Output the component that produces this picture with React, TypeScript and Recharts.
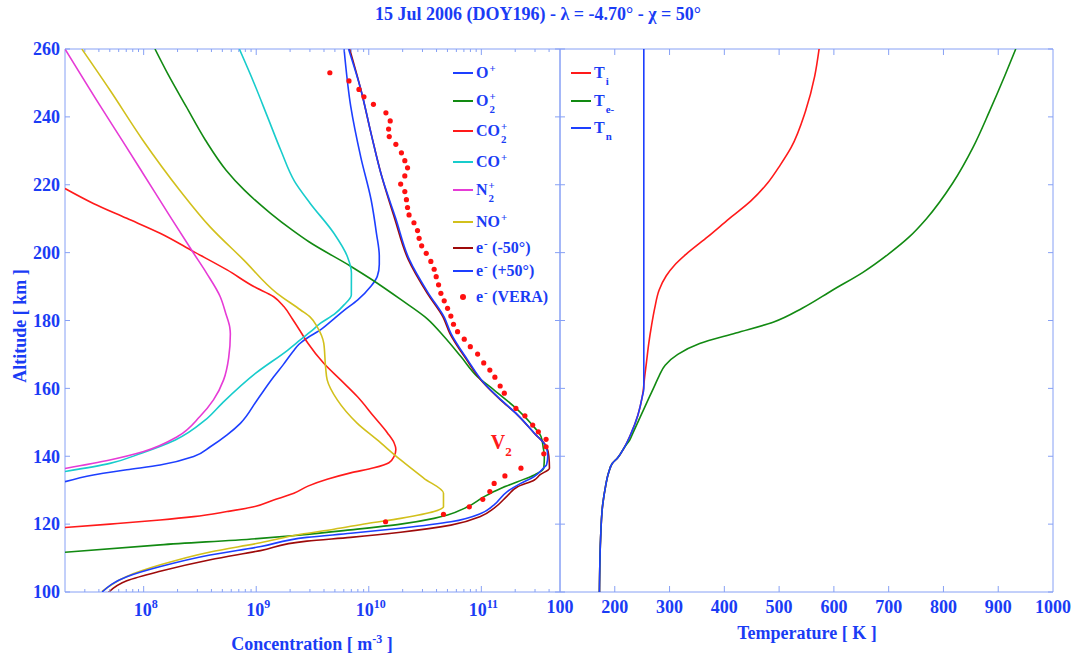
import React from 'react';
import { ScatterChart, Scatter, XAxis, YAxis, ReferenceDot } from 'recharts';

const W = 1076;
const H = 657;
const FONT = '"Liberation Serif", "Times New Roman", serif';
const TXT = '#1a3cf5';
const FRAME = '#86a0f5';

const TITLE = '15 Jul 2006 (DOY196) - \u03bb = -4.70\u00b0 - \u03c7 = 50\u00b0';

// ---- ticks ----
const ALT_TICKS = [100, 120, 140, 160, 180, 200, 220, 240, 260];
const CONC_MAJOR = [1e8, 1e9, 1e10, 1e11];
const CONC_MINOR = [
  3e7, 4e7, 5e7, 6e7, 7e7, 8e7, 9e7,
  2e8, 3e8, 4e8, 5e8, 6e8, 7e8, 8e8, 9e8,
  2e9, 3e9, 4e9, 5e9, 6e9, 7e9, 8e9, 9e9,
  2e10, 3e10, 4e10, 5e10, 6e10, 7e10, 8e10, 9e10,
  2e11, 3e11, 4e11,
];
const CONC_TICKS = [...CONC_MAJOR, ...CONC_MINOR];
const TEMP_TICKS = [100, 200, 300, 400, 500, 600, 700, 800, 900, 1000];

// ---- concentration profiles: [altitude km, density m^-3] ----
const O_PLUS: [number, number][] = [
  [260, 6.03e9], [243, 6.92e9], [228, 8.51e9], [215.5, 1.05e10], [205.7, 1.17e10], [199, 1.24e10],
  [196.5, 1.24e10], [193, 1.19e10], [190, 1.04e10], [186, 7.94e9], [183, 6.03e9], [180.5, 4.9e9],
  [177, 3.63e9], [175, 2.88e9], [173, 2.4e9], [171, 2.14e9], [167, 1.74e9], [163.4, 1.43e9],
  [156.6, 1.02e9], [149.7, 7.23e8], [146.3, 5.51e8], [142.8, 3.91e8], [139.9, 2.78e8], [137.4, 1.4e8],
  [136, 7.08e7], [134.5, 3.57e7], [132.5, 2.0e7],
];
const O2_PLUS: [number, number][] = [
  [260, 1.26e8], [252.8, 1.63e8], [243, 2.39e8], [233.2, 3.53e8], [224.3, 5.4e8], [218.4, 7.85e8],
  [211.6, 1.34e9], [206.7, 2.08e9], [203.2, 2.94e9], [196, 6.9e9], [192, 1.07e10],
  [186.2, 1.92e10], [180.5, 3.31e10], [175.2, 4.68e10], [169.3, 6.61e10], [163.4, 9.27e10],
  [159.5, 1.3e11], [154.6, 1.96e11], [149.7, 2.75e11], [145.8, 3.39e11], [142.5, 3.55e11],
  [140, 3.63e11], [136.5, 3.59e11], [134.5, 2.96e11], [132.5, 2.1e11], [130.6, 1.5e11],
  [128.1, 1.06e11], [125.1, 7.55e10], [122.7, 5.01e10], [121.7, 3.8e10], [120, 1.92e10],
  [118.3, 6.9e9], [116.8, 2.51e9], [115.8, 1.09e9], [113.9, 1.4e8], [111.7, 2.0e7],
];
const CO2_PLUS: [number, number][] = [
  [218.9, 2.0e7], [214.5, 3.57e7], [210.1, 7.08e7], [205.7, 1.4e8], [200.3, 2.78e8], [194.9, 5.51e8],
  [190, 9.51e8], [187, 1.43e9], [184.1, 1.76e9], [180.5, 2.09e9], [176.7, 2.48e9], [173.3, 2.88e9],
  [167.4, 3.98e9], [162.5, 5.62e9], [157.6, 7.91e9], [151.7, 1.11e10], [146.8, 1.47e10],
  [143.9, 1.68e10], [142, 1.74e10], [140, 1.68e10], [138.1, 1.51e10], [136.6, 1.11e10],
  [135.1, 6.9e9], [133.2, 4.27e9], [131.2, 2.88e9], [129.1, 2.16e9], [127.1, 1.43e9],
  [125.1, 9.51e8], [123.7, 5.51e8], [122.2, 2.78e8], [121.2, 1.4e8], [120, 5.01e7], [119, 2.0e7],
];
const CO_PLUS: [number, number][] = [
  [260, 7.08e8], [250, 9.55e8], [240, 1.26e9], [230, 1.66e9], [221, 2.19e9], [214.5, 3.02e9],
  [205.7, 4.9e9], [198.8, 6.46e9], [194, 7.01e9], [187.5, 7.0e9], [184.6, 6.03e9],
  [182, 5.01e9], [179.2, 3.73e9], [176.7, 3.04e9], [174.5, 2.51e9], [171.3, 1.91e9], [164.4, 9.84e8],
  [155.6, 4.97e8], [150.7, 3.53e8], [144.8, 1.91e8], [140.9, 9.55e7], [137.9, 5.01e7], [135.5, 2.0e7],
];
const N2_PLUS: [number, number][] = [
  [260, 2.0e7], [243, 4.15e7], [233, 6.46e7], [223.4, 9.84e7], [210.6, 1.72e8], [199.8, 2.78e8],
  [193.9, 3.63e8], [187, 4.79e8], [182, 5.37e8], [178, 5.82e8], [176, 5.89e8], [169, 5.69e8],
  [162.5, 5.13e8], [156.6, 4.17e8], [151.7, 3.16e8], [145.8, 2.0e8], [141.4, 1.0e8], [138.9, 5.0e7],
  [136.4, 2.0e7],
];
const NO_PLUS: [number, number][] = [
  [260, 2.82e7], [247.9, 5.01e7], [233.2, 9.8e7], [218.4, 2.09e8], [207.6, 3.89e8], [197.8, 7.76e8],
  [188, 1.53e9], [183.1, 2.48e9], [181, 3.02e9], [178.2, 3.47e9], [173.3, 3.98e9], [166.4, 4.13e9],
  [162.5, 4.27e9], [156.6, 5.25e9], [149.7, 7.91e9], [144.8, 1.19e10], [138.9, 1.92e10],
  [133.5, 3.09e10], [129.1, 4.61e10], [125.1, 4.61e10], [123.7, 3.8e10], [121.7, 1.92e10],
  [120.2, 9.73e9], [118.5, 4.9e9], [117, 2.48e9], [114.5, 1.09e9], [111.8, 3.91e8], [108, 1.41e8],
  [104.6, 7.08e7], [100.2, 4.27e7],
];
const E_M50: [number, number][] = [
  [260, 6.76e9], [248, 8.51e9], [235, 1.05e10], [223, 1.29e10], [210, 1.7e10], [198, 2.24e10],
  [188, 3.31e10], [181, 4.57e10], [176.2, 5.25e10], [168.4, 7.41e10], [161.5, 1.05e11],
  [156.6, 1.48e11], [152.2, 2.09e11], [146.8, 2.95e11], [142.8, 3.8e11], [140, 3.98e11],
  [136.5, 4.03e11], [134.5, 3.31e11], [133, 2.96e11], [131, 2.1e11], [128.4, 1.71e11],
  [124.7, 1.3e11], [122.3, 9.91e10], [119.7, 5.36e10], [117.6, 1.92e10], [116.1, 6.9e9],
  [115, 2.82e9], [112.2, 1.09e9], [109.5, 3.91e8], [106.1, 1.4e8], [103.3, 7.08e7], [100, 4.9e7],
];
const E_P50: [number, number][] = [
  [260, 6.61e9], [248, 8.51e9], [235, 1.05e10], [223, 1.29e10], [210, 1.74e10], [198, 2.29e10],
  [188, 3.39e10], [181, 4.68e10], [176.2, 5.37e10], [168.4, 7.55e10], [161.5, 1.06e11],
  [156.6, 1.5e11], [152.2, 2.1e11], [146.8, 2.96e11], [142.8, 3.76e11], [140, 3.89e11],
  [137.5, 3.8e11], [136.8, 3.63e11], [134, 2.95e11], [132, 2.24e11], [129.6, 1.7e11],
  [125.6, 1.29e11], [123.2, 1.0e11], [120.7, 5.37e10], [118.8, 1.91e10], [117.3, 6.92e9],
  [116.1, 2.82e9], [113.4, 1.1e9], [110.9, 3.89e8], [107.5, 1.41e8], [104.5, 7.08e7], [100, 4.27e7],
];
const E_VERA: [number, number][] = [
  [253, 4.51e9], [250.6, 6.67e9], [248.1, 8.18e9], [245.9, 9.06e9], [243.7, 1.1e10], [241.2, 1.42e10],
  [238.8, 1.55e10], [236.4, 1.5e10], [234.2, 1.52e10], [231.9, 1.74e10], [229.4, 1.95e10],
  [227.1, 2.09e10], [225, 2.21e10], [222.6, 2.09e10], [220.2, 1.92e10], [218, 2.09e10],
  [215.6, 2.16e10], [213.3, 2.21e10], [211.1, 2.28e10], [208.8, 2.52e10], [206.5, 2.71e10],
  [204.2, 2.8e10], [202, 2.95e10], [199.8, 3.24e10], [197.4, 3.56e10], [195.1, 3.81e10],
  [192.9, 3.97e10], [190.5, 4.17e10], [188, 4.37e10], [185.8, 4.68e10], [183.6, 5.01e10],
  [181.3, 5.36e10], [178.9, 5.66e10], [176.7, 6.15e10], [174.5, 7.05e10], [172.3, 7.98e10],
  [170.1, 9.27e10], [167.5, 1.05e11], [165.4, 1.19e11], [163.3, 1.32e11], [160.7, 1.47e11],
  [158.6, 1.6e11], [154.1, 2.03e11], [151.9, 2.44e11], [149.2, 2.86e11], [147.2, 3.21e11],
  [145, 3.76e11], [142.8, 3.76e11], [140.7, 3.59e11], [136.5, 2.25e11], [134.2, 1.62e11],
  [132, 1.3e11], [129.6, 1.19e11], [127.3, 1.03e11], [125.1, 7.82e10], [122.9, 4.61e10],
  [120.7, 1.41e10],
];

// ---- temperature profiles: [altitude km, temperature K] ----
const T_ION: [number, number][] = [
  [260, 573], [252, 565], [241.6, 548], [231, 522], [225.8, 502], [220.5, 479], [215.3, 449],
  [210, 409], [204.7, 370], [199.5, 330], [196.3, 309], [193.2, 294], [189, 281], [183.7, 273],
  [178.4, 267], [173.2, 262], [167.9, 258], [162.6, 254], [159.5, 252], [157.4, 250], [152, 242],
  [146.8, 230], [142.6, 217.5], [139.5, 205], [138, 196], [135.3, 189], [131, 183], [125.8, 178],
  [115.3, 174], [100, 172],
];
const T_ELEC: [number, number][] = [
  [260, 932], [252.1, 912], [241.6, 884], [231, 854], [220.5, 817], [210, 769], [204.7, 738],
  [199.5, 699], [194.2, 653], [189, 598], [183.7, 543], [179.5, 489], [176.3, 421], [173.2, 355],
  [170, 315], [166.8, 292], [163.7, 281], [160.5, 272], [157.4, 263], [152.1, 248], [146.8, 233],
  [144.7, 227], [142.6, 217.5], [139.5, 205], [138, 196], [135.3, 189], [131, 183], [125.8, 178],
  [115.3, 174], [100, 172],
];
const T_NEUT: [number, number][] = [
  [260, 253], [160, 253], [157.4, 250], [152, 242], [146.8, 230], [142.6, 217.5], [139.5, 205],
  [138, 196], [135.3, 189], [131, 183], [125.8, 178], [115.3, 174], [100, 172],
];

const toPts = (arr: [number, number][]) => arr.map(([alt, v]) => ({ x: v, y: alt }));

const LEFT_SERIES = [
  { name: 'O+', data: O_PLUS, color: '#1d3fff' },
  { name: 'O2+', data: O2_PLUS, color: '#128a12' },
  { name: 'CO2+', data: CO2_PLUS, color: '#ff1a1a' },
  { name: 'CO+', data: CO_PLUS, color: '#18cccc' },
  { name: 'N2+', data: N2_PLUS, color: '#e63bd6' },
  { name: 'NO+', data: NO_PLUS, color: '#d2c01c' },
  { name: 'e- (-50)', data: E_M50, color: '#9e0a0a' },
  { name: 'e- (+50)', data: E_P50, color: '#1d3fff' },
];
const VERA_COLOR = '#ff1010';

const RIGHT_SERIES = [
  { name: 'Ti', data: T_ION, color: '#ff1a1a' },
  { name: 'Te', data: T_ELEC, color: '#128a12' },
  { name: 'Tn', data: T_NEUT, color: '#1d3fff' },
];

const txtStyle = { fontFamily: FONT, fontWeight: 700 as const, fill: TXT };

const noShape = () => <g />;
const dotShape = (p: any) => <circle cx={p.cx} cy={p.cy} r={2.6} fill={VERA_COLOR} />;

// ---- ticks (drawn inward) ----
const concBottomTick = (p: any) => {
  const v = p.payload.value;
  const major = CONC_MAJOR.includes(v);
  const exp = Math.round(Math.log10(v));
  return (
    <g>
      <line x1={p.x} x2={p.x} y1={p.y} y2={p.y - (major ? 6 : 3)} stroke={FRAME} />
      {major && (
        <text x={p.x + 2} y={p.y + 24} textAnchor="middle" fontSize={18} {...txtStyle}>
          10<tspan dy={-8} fontSize={12}>{exp}</tspan>
        </text>
      )}
    </g>
  );
};
const concTopTick = (p: any) => {
  const major = CONC_MAJOR.includes(p.payload.value);
  return <line x1={p.x} x2={p.x} y1={p.y} y2={p.y + (major ? 6 : 3)} stroke={FRAME} />;
};
const altLeftTick = (p: any) => (
  <g>
    <line x1={p.x} x2={p.x + 5} y1={p.y} y2={p.y} stroke={FRAME} />
    <text x={p.x - 5} y={p.y} dy="0.35em" textAnchor="end" fontSize={18} {...txtStyle}>
      {p.payload.value}
    </text>
  </g>
);
const inLeftTick = (p: any) => <line x1={p.x} x2={p.x + 5} y1={p.y} y2={p.y} stroke={FRAME} />;
const inRightTick = (p: any) => <line x1={p.x} x2={p.x - 5} y1={p.y} y2={p.y} stroke={FRAME} />;
const tempBottomTick = (p: any) => {
  const v = p.payload.value;
  const edge = v === 100 || v === 1000;
  return (
    <g>
      {!edge && <line x1={p.x} x2={p.x} y1={p.y} y2={p.y - 6} stroke={FRAME} />}
      <text x={p.x} y={p.y + 21} textAnchor="middle" fontSize={18} {...txtStyle}>
        {v}
      </text>
    </g>
  );
};
const tempTopTick = (p: any) => {
  const v = p.payload.value;
  if (v === 100 || v === 1000) return <g />;
  return <line x1={p.x} x2={p.x} y1={p.y} y2={p.y + 6} stroke={FRAME} />;
};

const v2Shape = (p: any) => (
  <text x={p.cx} y={p.cy} dy="0.35em" textAnchor="middle" fontSize={20} fontFamily={FONT} fontWeight={700} fill="#ff1a1a">
    V<tspan dy={7} fontSize={13}>2</tspan>
  </text>
);

// ---- legend helpers ----
const Sym = ({ base, sub, sup, size }: { base: string; sub?: string; sup?: string; size: number }) => (
  <span style={{ display: 'inline-flex', alignItems: 'center' }}>
    <span>{base}</span>
    <span style={{ position: 'relative', display: 'inline-block', width: sub && sub.length > 1 ? 14 : 9, height: size }}>
      {sup && <span style={{ position: 'absolute', left: 1, top: -size * 0.45, fontSize: size * 0.68 }}>{sup}</span>}
      {sub && <span style={{ position: 'absolute', left: 1, top: size * 0.35, fontSize: size * 0.68 }}>{sub}</span>}
    </span>
  </span>
);

const LEFT_LEGEND = [
  { y: 73, color: '#1d3fff', node: <Sym base="O" sup="+" size={16} /> },
  { y: 101, color: '#128a12', node: <Sym base="O" sup="+" sub="2" size={16} /> },
  { y: 131, color: '#ff1a1a', node: <Sym base="CO" sup="+" sub="2" size={16} /> },
  { y: 162, color: '#18cccc', node: <Sym base="CO" sup="+" size={16} /> },
  { y: 190, color: '#e63bd6', node: <Sym base="N" sup="+" sub="2" size={16} /> },
  { y: 222, color: '#d2c01c', node: <Sym base="NO" sup="+" size={16} /> },
  { y: 248, color: '#9e0a0a', node: <span><Sym base="e" sup="-" size={16} />(-50°)</span> },
  { y: 271, color: '#1d3fff', node: <span><Sym base="e" sup="-" size={16} />(+50°)</span> },
  { y: 297, color: null, node: <span><Sym base="e" sup="-" size={16} />(VERA)</span> },
];
const RIGHT_LEGEND = [
  { y: 73, color: '#ff1a1a', node: <Sym base="T" sub="i" size={16} /> },
  { y: 101, color: '#128a12', node: <Sym base="T" sub="e-" size={16} /> },
  { y: 128, color: '#1d3fff', node: <Sym base="T" sub="n" size={16} /> },
];

const LegendBox = ({ items, x, lineW }: { items: typeof LEFT_LEGEND; x: number; lineW: number }) => (
  <>
    {items.map((it, i) => (
      <div
        key={i}
        style={{
          position: 'absolute', left: x, top: it.y - 10, height: 20, display: 'flex', alignItems: 'center',
          fontFamily: FONT, fontWeight: 700, fontSize: 16, color: TXT, whiteSpace: 'nowrap', lineHeight: '20px',
        }}
      >
        <span style={{ position: 'relative', display: 'inline-block', width: lineW, height: 2, marginRight: 3, background: it.color || 'transparent' }}>
          {!it.color && (
            <span style={{ position: 'absolute', left: lineW / 2 - 3, top: -2, width: 5.5, height: 5.5, borderRadius: 3, background: VERA_COLOR }} />
          )}
        </span>
        {it.node}
      </div>
    ))}
  </>
);

export default function App() {
  return (
    <div style={{ position: 'absolute', left: 0, top: 0, width: W, height: H, background: '#fff', overflow: 'hidden' }}>
      {/* Left panel: concentrations */}
      <div style={{ position: 'absolute', left: 0, top: 0 }}>
        <ScatterChart width={W} height={H} margin={{ top: 48, right: 515, bottom: 25, left: 0 }}>
          <XAxis xAxisId="b" dataKey="x" type="number" scale="log" domain={[2e7, 5e11]} allowDataOverflow
            ticks={CONC_TICKS} interval={0} tickLine={false} tickSize={0} tickMargin={0} height={40}
            axisLine={{ stroke: FRAME }} tick={concBottomTick} />
          <XAxis xAxisId="t" orientation="top" dataKey="x" type="number" scale="log" domain={[2e7, 5e11]} allowDataOverflow
            ticks={CONC_TICKS} interval={0} tickLine={false} tickSize={0} tickMargin={0} height={1}
            axisLine={{ stroke: FRAME }} tick={concTopTick} />
          <YAxis yAxisId="l" dataKey="y" type="number" domain={[100, 260]} allowDataOverflow ticks={ALT_TICKS}
            interval={0} tickLine={false} tickSize={0} tickMargin={0} width={65} axisLine={{ stroke: FRAME }} tick={altLeftTick} />
          <YAxis yAxisId="r" orientation="right" dataKey="y" type="number" domain={[100, 260]} allowDataOverflow ticks={ALT_TICKS}
            interval={0} tickLine={false} tickSize={0} tickMargin={0} width={1} axisLine={{ stroke: FRAME }} tick={inRightTick} />
          {LEFT_SERIES.map((s) => (
            <Scatter key={s.name} name={s.name} data={toPts(s.data)} xAxisId="b" yAxisId="l" fill={s.color}
              line={{ stroke: s.color, strokeWidth: 1.6 }} lineJointType="monotoneY" shape={noShape} isAnimationActive={false} />
          ))}
          <Scatter name="e- (VERA)" data={toPts(E_VERA)} xAxisId="b" yAxisId="l" fill={VERA_COLOR}
            shape={dotShape} isAnimationActive={false} />
          <ReferenceDot xAxisId="b" yAxisId="l" x={1.5e11} y={144.3} r={0} shape={v2Shape} />
        </ScatterChart>
      </div>

      {/* Right panel: temperatures */}
      <div style={{ position: 'absolute', left: 0, top: 0 }}>
        <ScatterChart width={W} height={H} margin={{ top: 48, right: 22, bottom: 25, left: 559 }}>
          <XAxis xAxisId="b" dataKey="x" type="number" domain={[100, 1000]} allowDataOverflow ticks={TEMP_TICKS}
            interval={0} tickLine={false} tickSize={0} tickMargin={0} height={40} axisLine={{ stroke: FRAME }} tick={tempBottomTick} />
          <XAxis xAxisId="t" orientation="top" dataKey="x" type="number" domain={[100, 1000]} allowDataOverflow ticks={TEMP_TICKS}
            interval={0} tickLine={false} tickSize={0} tickMargin={0} height={1} axisLine={{ stroke: FRAME }} tick={tempTopTick} />
          <YAxis yAxisId="l" dataKey="y" type="number" domain={[100, 260]} allowDataOverflow ticks={ALT_TICKS}
            interval={0} tickLine={false} tickSize={0} tickMargin={0} width={1} axisLine={{ stroke: FRAME }} tick={inLeftTick} />
          <YAxis yAxisId="r" orientation="right" dataKey="y" type="number" domain={[100, 260]} allowDataOverflow ticks={ALT_TICKS}
            interval={0} tickLine={false} tickSize={0} tickMargin={0} width={1} axisLine={{ stroke: FRAME }} tick={inRightTick} />
          {RIGHT_SERIES.map((s) => (
            <Scatter key={s.name} name={s.name} data={toPts(s.data)} xAxisId="b" yAxisId="l" fill={s.color}
              line={{ stroke: s.color, strokeWidth: 1.6 }} lineJointType="monotoneY" shape={noShape} isAnimationActive={false} />
          ))}
        </ScatterChart>
      </div>

      {/* Titles */}
      <div style={{ position: 'absolute', left: 0, top: 4, width: W, textAlign: 'center', fontFamily: FONT, fontWeight: 700, fontSize: 18, color: TXT, lineHeight: '20px' }}>
        {TITLE}
      </div>
      <div style={{ position: 'absolute', left: 20, top: 326, transform: 'translate(-50%, -50%) rotate(-90deg)', fontFamily: FONT, fontWeight: 700, fontSize: 18, color: TXT, whiteSpace: 'nowrap' }}>
        Altitude [ km ]
      </div>
      <div style={{ position: 'absolute', left: 312, top: 643, transform: 'translate(-50%, -50%)', fontFamily: FONT, fontWeight: 700, fontSize: 18, color: TXT, whiteSpace: 'nowrap' }}>
        Concentration [ m<sup style={{ fontSize: 12 }}>-3</sup> ]
      </div>
      <div style={{ position: 'absolute', left: 807, top: 633, transform: 'translate(-50%, -50%)', fontFamily: FONT, fontWeight: 700, fontSize: 18, color: TXT, whiteSpace: 'nowrap' }}>
        Temperature [ K ]
      </div>

      {/* Legends */}
      <LegendBox items={LEFT_LEGEND} x={453} lineW={20} />
      <LegendBox items={RIGHT_LEGEND} x={571} lineW={20} />
    </div>
  );
}
